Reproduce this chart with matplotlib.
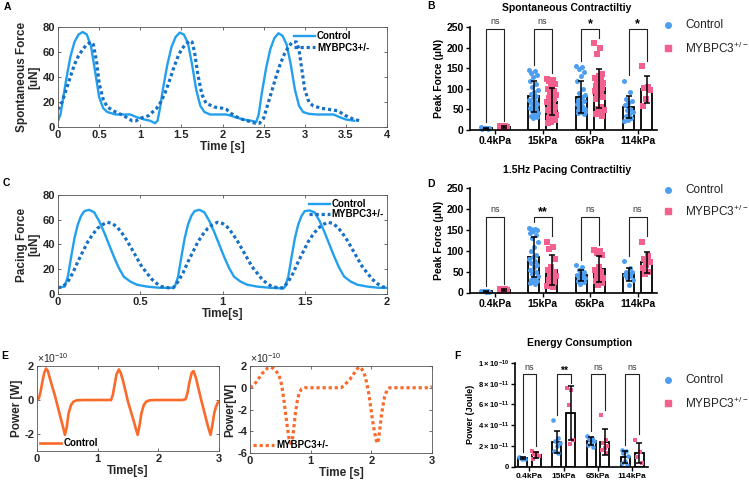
import numpy as np
import matplotlib
matplotlib.use("Agg")
import matplotlib.pyplot as plt
from matplotlib.lines import Line2D
from matplotlib.ticker import FuncFormatter

plt.rcParams['font.family'] = ['Liberation Sans', 'DejaVu Sans']
plt.rcParams['mathtext.fontset'] = 'custom'
plt.rcParams['mathtext.rm'] = 'Liberation Sans'
plt.rcParams['mathtext.bf'] = 'Liberation Sans:bold'
plt.rcParams['mathtext.default'] = 'regular'

# ── colours ───────────────────────────────────────────────────────────────────
CTRL_LINE = '#22A0EE'
MYB_LINE = '#1670C4'
ORANGE = '#F96A2B'
BLUE = '#4E9EF2'
PINK = '#F2608E'
MAT_EDGE = '#555555'
MAT_TXT = '#262626'

# ── A: spontaneous force traces (uN) ─────────────────────────────────────────
tA_ctrl = [0, 0.03, 0.06, 0.1, 0.15, 0.2, 0.25, 0.3, 0.35, 0.4, 0.45, 0.5, 0.55, 0.6,
           0.7, 0.8, 0.88, 0.95, 1.05, 1.12, 1.18, 1.21, 1.24, 1.28, 1.33, 1.38, 1.43,
           1.48, 1.53, 1.58, 1.63, 1.68, 1.73, 1.78, 1.85, 1.95, 2.05, 2.15, 2.25, 2.35,
           2.41, 2.44, 2.48, 2.53, 2.58, 2.63, 2.68, 2.73, 2.78, 2.83, 2.88, 2.93, 2.98,
           3.05, 3.15, 3.25, 3.35, 3.42, 3.5, 3.6]
fA_ctrl = [5, 10, 22, 38, 56, 68, 74, 76, 74, 65, 45, 24, 15, 12,
           10, 10, 10, 8, 6, 5, 3, 5, 15, 32, 50, 64, 72,
           75.5, 74, 67, 50, 30, 17, 12, 10, 10, 10, 8, 6, 5,
           4, 10, 28, 47, 62, 71, 75, 73, 66, 50, 30, 17, 12,
           10.5, 10, 10, 10, 8, 6, 5]
tA_myb = [0, 0.05, 0.1, 0.15, 0.2, 0.25, 0.3, 0.35, 0.4, 0.43, 0.47, 0.5, 0.55, 0.6,
          0.7, 0.8, 0.9, 0.95, 1.0, 1.1, 1.2, 1.25, 1.3, 1.35, 1.4, 1.45, 1.5, 1.55,
          1.6, 1.63, 1.66, 1.7, 1.75, 1.8, 1.9, 2.0, 2.05, 2.1, 2.2, 2.3, 2.4, 2.45,
          2.5, 2.55, 2.6, 2.65, 2.7, 2.75, 2.8, 2.85, 2.9, 2.93, 2.96, 3.0, 3.05, 3.1,
          3.2, 3.3, 3.4, 3.5, 3.6, 3.67]
fA_myb = [14, 20, 30, 40, 50, 57, 62, 66, 68, 66, 52, 35, 22, 16,
          12, 9, 5, 5, 7, 9, 15, 20, 27, 36, 46, 55, 62, 66,
          69, 68, 60, 42, 26, 19, 16, 15, 14, 11, 7, 5, 3, 3,
          7, 18, 29, 40, 50, 58, 64, 68, 68, 62, 48, 30, 20, 17,
          15, 14, 13, 9, 6, 5]

# ── C: 1.5 Hz pacing force traces (uN) ───────────────────────────────────────
tC_ctrl = [0, 0.04, 0.06, 0.08, 0.10, 0.12, 0.14, 0.16, 0.19, 0.22, 0.25, 0.28, 0.31,
           0.34, 0.37, 0.40, 0.44, 0.48, 0.54, 0.62, 0.70,
           0.71, 0.73, 0.75, 0.77, 0.79, 0.81, 0.83, 0.86, 0.89, 0.92, 0.95, 0.98, 1.01,
           1.04, 1.07, 1.11, 1.15, 1.21, 1.29, 1.37,
           1.38, 1.40, 1.42, 1.44, 1.46, 1.48, 1.50, 1.53, 1.56, 1.59, 1.62, 1.65, 1.68,
           1.71, 1.74, 1.78, 1.82, 1.88, 1.95, 2.0]
fC_ctrl = [5, 6, 14, 30, 45, 56, 63, 67, 68, 66, 59, 50, 40,
           30, 21, 14, 10, 7.5, 6, 5, 5,
           6, 14, 30, 45, 56, 63, 67, 68, 66, 59, 50, 40, 30,
           21, 14, 10, 7.5, 6, 5, 4.5,
           6, 14, 30, 45, 56, 63, 67, 67.5, 66, 59, 50, 40, 30,
           21, 14, 10, 7.5, 6, 5, 5]
tC_myb = [0, 0.03, 0.06, 0.09, 0.12, 0.15, 0.18, 0.21, 0.24, 0.27, 0.30, 0.33, 0.36,
          0.39, 0.42, 0.45, 0.48, 0.51, 0.54, 0.57, 0.60, 0.63, 0.67, 0.70,
          0.73, 0.76, 0.79, 0.82, 0.85, 0.88, 0.91, 0.94, 0.97, 1.00, 1.03, 1.06, 1.09,
          1.12, 1.15, 1.18, 1.21, 1.24, 1.27, 1.30, 1.34, 1.37,
          1.40, 1.43, 1.46, 1.49, 1.52, 1.55, 1.58, 1.61, 1.64, 1.67, 1.70, 1.73, 1.76,
          1.79, 1.82, 1.85, 1.88, 1.91, 1.94, 1.97, 2.0]
fC_myb = [5, 6, 10, 17, 26, 34, 42, 48, 53, 56, 58, 57, 54,
          49, 43, 36, 29, 22, 17, 12, 8.5, 6, 5, 5,
          10, 17, 26, 34, 42, 48, 53, 56, 58, 57, 54, 49, 43,
          36, 29, 22, 17, 12, 8.5, 6, 5, 5,
          10, 17, 26, 34, 42, 48, 53, 56, 58, 57, 54, 49, 43,
          36, 29, 22, 17, 12, 8.5, 6, 5]

# ── E: power traces (x1e-10 W) ───────────────────────────────────────────────
tE_ctrl = [0, 0.03, 0.06, 0.09, 0.12, 0.15, 0.18, 0.21, 0.25, 0.3, 0.35, 0.4, 0.43,
           0.46, 0.49, 0.52, 0.56, 0.6, 0.65, 0.75, 0.9, 1.05, 1.18, 1.2,
           1.22, 1.25, 1.28, 1.31, 1.35, 1.38, 1.42, 1.46, 1.5, 1.55, 1.6, 1.63, 1.66,
           1.69, 1.72, 1.76, 1.8, 1.85, 1.95, 2.1, 2.25, 2.4, 2.45, 2.48, 2.51, 2.55,
           2.58, 2.62, 2.66, 2.7, 2.75, 2.8, 2.83, 2.86, 2.89, 2.92, 2.95, 2.98, 3.0]
pE_ctrl = [0, 0.1, 0.5, 1.1, 1.6, 1.85, 1.7, 1.3, 0.8, 0.2, -0.5, -1.2, -1.6,
           -2.05, -1.6, -0.8, -0.3, -0.1, -0.02, 0, 0, 0, 0, np.nan,
           0, 0.3, 0.9, 1.5, 1.8, 1.6, 1.1, 0.5, -0.1, -0.7, -1.3, -1.7, -2.05,
           -1.5, -0.8, -0.3, -0.1, -0.02, 0, 0, 0, 0, 0.05, 0.4, 1.0, 1.6,
           1.7, 1.3, 0.7, 0.1, -0.6, -1.3, -1.7, -2.05, -1.5, -0.8, -0.4, -0.15, -0.1]
tE_myb = [0, 0.05, 0.1, 0.15, 0.2, 0.25, 0.3, 0.34, 0.38, 0.42, 0.46, 0.5, 0.53, 0.56,
          0.59, 0.62, 0.645, 0.67, 0.69, 0.71, 0.73, 0.75, 0.78, 0.81, 0.85, 0.9, 1.0,
          1.2, 1.4, 1.5, 1.55, 1.6, 1.65, 1.7, 1.75, 1.79, 1.83, 1.87, 1.9, 1.93, 1.96,
          1.99, 2.02, 2.05, 2.08, 2.1, 2.12, 2.14, 2.16, 2.19, 2.22, 2.26, 2.3, 2.4,
          2.6, 2.8, 2.95, 3.0]
pE_myb = [0, 0.2, 0.5, 0.9, 1.3, 1.6, 1.85, 1.9, 1.8, 1.6, 1.3, 0.8, 0.0, -1.2,
          -2.5, -3.8, -4.7, -5.1, -5.0, -4.3, -3.3, -2.3, -1.2, -0.5, -0.1, 0, 0,
          0, 0, 0, 0.2, 0.5, 0.8, 1.2, 1.6, 1.9, 1.8, 1.5, 1.0, 0.3, -0.6,
          -1.8, -3.0, -4.0, -4.8, -5.1, -4.7, -3.8, -2.8, -1.7, -0.8, -0.2, 0, 0,
          0, 0, 0, 0.1]

# ── B/D/F: per-sample values ─────────────────────────────────────────────────
stiffness = ['0.4kPa', '15kPa', '65kPa', '114kPa']

spont_ctrl = [
    [7, 6, 5, 4, 4, 3, 3, 5],
    [145, 142, 138, 133, 128, 120, 112, 105, 98, 92, 88, 82, 78, 74, 70, 66, 62, 58,
     54, 50, 46, 42, 38, 35, 32, 30],
    [155, 152, 148, 140, 130, 118, 100, 90, 84, 80, 74, 70, 66, 62, 58, 55, 52, 50,
     48, 46, 45, 44, 43, 42, 40],
    [120, 92, 75, 70, 65, 60, 52, 48, 44, 40, 35, 30, 25, 22],
]
spont_myb = [
    [10, 9, 8, 7, 6, 5, 5],
    [125, 122, 118, 112, 105, 100, 95, 90, 86, 82, 78, 75, 72, 68, 64, 60, 56, 52,
     48, 44, 40, 36, 32, 28, 24, 20, 16],
    [212, 200, 185, 135, 130, 126, 122, 118, 114, 110, 106, 102, 98, 94, 90, 85, 80,
     85, 75, 55, 50, 48, 44, 40, 35],
    [155, 105, 102, 98, 75, 58],
]
spont_sig = ['ns', 'ns', '*', '*']

pace_ctrl = [
    [4, 3, 3, 2, 2, 3, 4],
    [155, 153, 151, 149, 146, 143, 138, 130, 120, 110, 100, 90, 85, 80, 75, 70, 65,
     60, 55, 50, 45, 40, 35, 30, 28, 25, 22, 20],
    [65, 60, 55, 50, 45, 42, 40, 38, 35, 32, 28, 25, 20],
    [75, 58, 50, 48, 45, 42, 40, 35, 30, 18],
]
pace_myb = [
    [9, 8, 7, 6, 5, 4, 3],
    [122, 110, 105, 80, 60, 55, 50, 45, 40, 35, 30, 25, 20, 15, 12],
    [102, 100, 95, 90, 62, 55, 48, 42, 35, 30, 28, 22, 18],
    [122, 88, 80, 72, 65, 58, 50, 45],
]
pace_sig = ['ns', '**', 'ns', 'ns']

# energy in units of 1e-11 J
energy_ctrl = [
    [0.9, 0.85, 0.8, 0.75, 0.7],
    [4.5, 2.8, 2.5, 2.3, 2.0, 1.5, 1.3],
    [2.9, 2.8, 2.7, 2.5, 2.3, 2.1, 1.9],
    [1.6, 1.5, 1.3, 1.0, 0.5, 0.3, 0.1],
]
energy_myb = [
    [1.45, 1.35, 1.2, 1.05, 0.9, 0.75],
    [7.6, 7.4, 5.9, 2.6, 2.2],
    [4.95, 2.6, 2.3, 2.0, 1.8, 1.6, 1.3],
    [2.6, 1.4, 0.9, 0.3],
]
energy_sig = ['ns', '**', 'ns', 'ns']
energy_ticks = [0, 2, 4, 6, 8, 10]
energy_ticklabels = ['0', r'$2\times10^{-11}$', r'$4\times10^{-11}$',
                     r'$6\times10^{-11}$', r'$8\times10^{-11}$', r'$1\times10^{-10}$']

# ──────────────────────────────────────────────────────────────────────────────
W, H = 749, 483
fig = plt.figure(figsize=(W / 100, H / 100), dpi=100)


def box(l, t, r, b):
    """axes rect from pixel edges (top-left origin)"""
    return [l / W, 1 - b / H, (r - l) / W, (b - t) / H]


def matlab_style(ax, xlim, ylim, xticks, yticks):
    ax.set_xlim(xlim)
    ax.set_ylim(ylim)
    ax.set_xticks(xticks)
    ax.set_yticks(yticks)
    fmt = FuncFormatter(lambda v, p: f'{v:g}')
    ax.xaxis.set_major_formatter(fmt)
    ax.yaxis.set_major_formatter(fmt)
    ax.tick_params(direction='in', top=True, right=True, length=2.5, width=0.6,
                   color=MAT_EDGE, labelcolor=MAT_TXT, labelsize=8, pad=2)
    for lab in ax.get_xticklabels() + ax.get_yticklabels():
        lab.set_fontweight('bold')
    for s in ax.spines.values():
        s.set_color(MAT_EDGE)
        s.set_linewidth(0.6)


def dotted(ax, t, y, color, label, lw=2.3):
    ln, = ax.plot(t, y, color=color, lw=lw, label=label)
    ln.set_dashes([1, 0.9])
    ln.set_dash_capstyle('butt')
    return ln


lab_kw = dict(fontsize=8.5, fontweight='bold', color=MAT_TXT)
leg_kw = dict(frameon=False, prop={'weight': 'bold', 'size': 7}, handletextpad=0.2,
              borderaxespad=0.0, borderpad=0.3)

# A
axA = fig.add_axes(box(58, 27, 387, 127))
axA.plot(tA_ctrl, fA_ctrl, color=CTRL_LINE, lw=1.7, label='Control')
dotted(axA, tA_myb, fA_myb, MYB_LINE, 'MYBPC3+/-')
matlab_style(axA, (0, 4), (0, 80), np.arange(0, 4.01, 0.5), [0, 20, 40, 60, 80])
axA.set_xlabel('Time [s]', labelpad=1, **lab_kw)
axA.set_ylabel('Spontaneous Force\n[uN]', labelpad=2, linespacing=1.0, **lab_kw)
axA.legend(loc='upper right', bbox_to_anchor=(0.955, 0.99), handlelength=2.2,
           labelspacing=0.2, **leg_kw)

# C
axC = fig.add_axes(box(58, 195, 387, 294))
axC.plot(tC_ctrl, fC_ctrl, color=CTRL_LINE, lw=1.7, label='Control')
dotted(axC, tC_myb, fC_myb, MYB_LINE, 'MYBPC3+/-')
matlab_style(axC, (0, 2), (0, 80), np.arange(0, 2.01, 0.5), [0, 20, 40, 60, 80])
axC.set_xlabel('Time[s]', labelpad=1, **lab_kw)
axC.set_ylabel('Pacing Force\n[uN]', labelpad=2, linespacing=1.0, **lab_kw)
axC.legend(loc='upper right', bbox_to_anchor=(1.0, 0.99), handlelength=2.2,
           labelspacing=0.05, **leg_kw)

# E (two sub-panels)
axE1 = fig.add_axes(box(37, 366, 219, 451))
axE1.plot(tE_ctrl, pE_ctrl, color=ORANGE, lw=1.9, label='Control')
matlab_style(axE1, (0, 3), (-3, 2), [0, 1, 2, 3], [-2, 0, 2])
axE1.set_xlabel('Time[s]', labelpad=1, **lab_kw)
axE1.set_ylabel('Power [W]', labelpad=1, **lab_kw)
axE1.legend(loc='lower left', handlelength=2.2, **leg_kw)
axE1.text(0.0, 1.01, r'$\times10^{-10}$', transform=axE1.transAxes, fontsize=7.5,
          color=MAT_TXT, va='bottom', ha='left')

axE2 = fig.add_axes(box(250, 366, 432, 453))
dotted(axE2, tE_myb, pE_myb, ORANGE, 'MYBPC3+/-', lw=2.3)
matlab_style(axE2, (0, 3), (-6, 2), [0, 1, 2, 3], [-6, -4, -2, 0, 2])
axE2.set_xlabel('Time [s]', labelpad=1, **lab_kw)
axE2.set_ylabel('Power[W]', labelpad=1, **lab_kw)
axE2.legend(loc='lower left', handlelength=2.2, **leg_kw)
axE2.text(0.0, 1.01, r'$\times10^{-10}$', transform=axE2.transAxes, fontsize=7.5,
          color=MAT_TXT, va='bottom', ha='left')


# ── Prism-style grouped bar panels ───────────────────────────────────────────
def prism_panel(ax, ctrl, myb, sig, ylim, yticks, xlim, off, bw, bracket_y,
                tick_fs=7.5, ms=13, sig_fs=(6.5, 9)):
    x = np.arange(len(stiffness))
    gap = 0.05 * ylim[1]
    for i in range(len(stiffness)):
        for vals, xc, col, mk in ((ctrl[i], x[i] - off, BLUE, 'o'),
                                  (myb[i], x[i] + off, PINK, 's')):
            v = np.asarray(vals, float)
            mean, sd = v.mean(), v.std(ddof=1)
            ax.bar(xc, mean, width=bw, color='white', edgecolor='black',
                   linewidth=1.3, zorder=1)
            jit = ((np.arange(len(v)) * 0.618) % 1 - 0.5) * bw * 0.85
            ax.scatter(xc + jit, v, s=ms, marker=mk, color=col, linewidths=0,
                       zorder=2, clip_on=False)
            ax.errorbar(xc, mean, yerr=sd, fmt='none', ecolor='black',
                        elinewidth=1.1, capsize=2.5, capthick=1.1, zorder=3)
        c_top = max(ctrl[i]) + gap
        m_top = max(myb[i]) + gap
        ax.plot([x[i] - off, x[i] - off, x[i] + off, x[i] + off],
                [c_top, bracket_y, bracket_y, m_top], color='#222222', lw=0.8,
                clip_on=False, zorder=4)
        if sig[i] == 'ns':
            ax.text(x[i], bracket_y + 0.025 * ylim[1], 'ns', ha='center', va='bottom',
                    fontsize=sig_fs[0], color='#333333')
        else:
            ax.text(x[i], bracket_y - 0.01 * ylim[1], sig[i], ha='center',
                    va='bottom', fontsize=sig_fs[1], fontweight='bold')
    ax.set_xlim(xlim)
    ax.set_ylim(ylim)
    ax.set_yticks(yticks)
    ax.set_xticks(x)
    ax.set_xticklabels(stiffness, fontweight='bold', fontsize=tick_fs)
    for lab in ax.get_yticklabels():
        lab.set_fontweight('bold')
        lab.set_fontsize(tick_fs)
    ax.tick_params(direction='out', length=3, width=1.0, pad=1.5)
    for side in ('top', 'right'):
        ax.spines[side].set_visible(False)
    for side in ('left', 'bottom'):
        ax.spines[side].set_linewidth(1.2)


def prism_legend(y1, y2):
    for y, mk, col, text in ((y1, 'o', BLUE, 'Control'),
                             (y2, 's', PINK, r'MYBPC3$^{+/-}$')):
        fig.add_artist(Line2D([668 / W], [1 - y / H], marker=mk, color=col, ms=4,
                              ls='none', transform=fig.transFigure))
        fig.text(685 / W, 1 - y / H, text, fontsize=8.5, va='center', color='#222222')


axB = fig.add_axes(box(470, 27, 657, 130))
prism_panel(axB, spont_ctrl, spont_myb, spont_sig, (0, 250), [0, 50, 100, 150, 200, 250],
            (-0.53, 3.41), 0.19, 0.23, 245)
axB.set_ylabel('Peak Force (μN)', fontsize=7.5, fontweight='bold', labelpad=2)
fig.text(567 / W, 1 - 8 / H, 'Spontaneous Contractiltiy', ha='center', va='center',
         fontsize=7.5, fontweight='bold')
prism_legend(25, 48)

axD = fig.add_axes(box(470, 188, 657, 292.5))
prism_panel(axD, pace_ctrl, pace_myb, pace_sig, (0, 250), [0, 50, 100, 150, 200, 250],
            (-0.53, 3.41), 0.19, 0.23, 181)
axD.set_ylabel('Peak Force (μN)', fontsize=7.5, fontweight='bold', labelpad=2)
fig.text(567 / W, 1 - 170 / H, '1.5Hz Pacing Contractiltiy', ha='center', va='center',
         fontsize=7.5, fontweight='bold')
prism_legend(190, 211)

axF = fig.add_axes(box(515, 363, 648, 466.5))
prism_panel(axF, energy_ctrl, energy_myb, energy_sig, (0, 10), energy_ticks,
            (-0.42, 3.46), 0.2, 0.26, 8.9, tick_fs=6, ms=11, sig_fs=(6.5, 7.5))
axF.set_yticklabels(energy_ticklabels, fontsize=5.5, fontweight='bold')
axF.set_ylabel('Power (Joule)', fontsize=6.5, fontweight='bold', labelpad=2)
fig.text(580 / W, 1 - 343 / H, 'Energy Consumption', ha='center', va='center',
         fontsize=7.5, fontweight='bold')
prism_legend(380, 403)

# panel letters
for letter, (lx, ly) in {'A': (7, 7), 'B': (431, 6), 'C': (6, 183), 'D': (431, 184),
                         'E': (5, 356), 'F': (457, 356)}.items():
    fig.text(lx / W, 1 - ly / H, letter, fontsize=7.5, fontweight='bold',
             ha='center', va='center')

fig.savefig('out.png', dpi=100)
